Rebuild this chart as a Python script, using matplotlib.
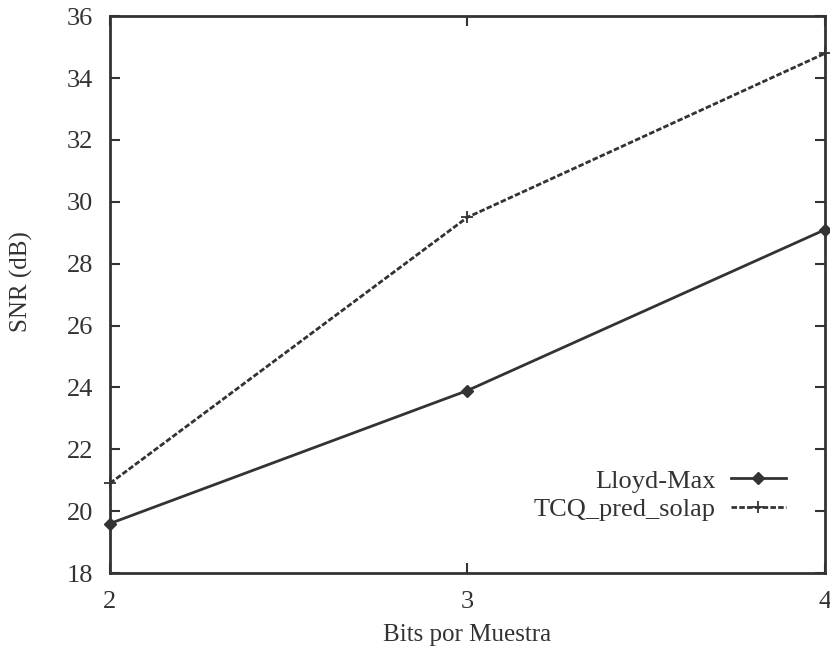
import matplotlib
matplotlib.use("Agg")
import matplotlib.pyplot as plt

bits = [2, 3, 4]
lloyd_max = [19.6, 23.9, 29.1]
tcq_pred_solap = [20.9, 29.5, 34.8]
y_ticks = [18, 20, 22, 24, 26, 28, 30, 32, 34, 36]

plt.rcParams["font.family"] = ["Liberation Serif", "DejaVu Serif"]
ink = "#333333"

fig = plt.figure(figsize=(8.3, 6.48), dpi=100)
ax = fig.add_axes([0.1325, 0.1157, 0.8615, 0.8593])

ax.plot(bits, lloyd_max, color=ink, lw=2.0, marker="D", ms=6,
        label="Lloyd-Max", clip_on=False)
ax.plot(bits, tcq_pred_solap, color=ink, lw=2.0, ls=(0, (2.0, 0.8)),
        marker="+", ms=9, mew=1.3, label="TCQ_pred_solap", clip_on=False)

ax.set_xlim(2, 4)
ax.set_ylim(18, 36)
ax.set_xticks(bits)
ax.set_yticks(y_ticks)
ax.tick_params(direction="in", length=7, width=1.5, colors=ink,
               labelsize=19, top=True, right=True)
ax.tick_params(axis="y", pad=12)
ax.tick_params(axis="x", pad=13)
for s in ax.spines.values():
    s.set_linewidth(2.0)
    s.set_color(ink)

ax.set_xlabel("Bits por Muestra", fontsize=18, color=ink)
ax.xaxis.set_label_coords(0.5, -0.0916)
ax.set_ylabel("SNR (dB)", fontsize=18, color=ink)
ax.yaxis.set_label_coords(-0.108, 0.524)

ax.legend(loc="lower right", bbox_to_anchor=(0.978, 0.050), frameon=False,
          markerfirst=False, fontsize=19, handlelength=2.05,
          handletextpad=0.6, labelspacing=0.2, labelcolor=ink)

fig.savefig("out.png", dpi=100)
